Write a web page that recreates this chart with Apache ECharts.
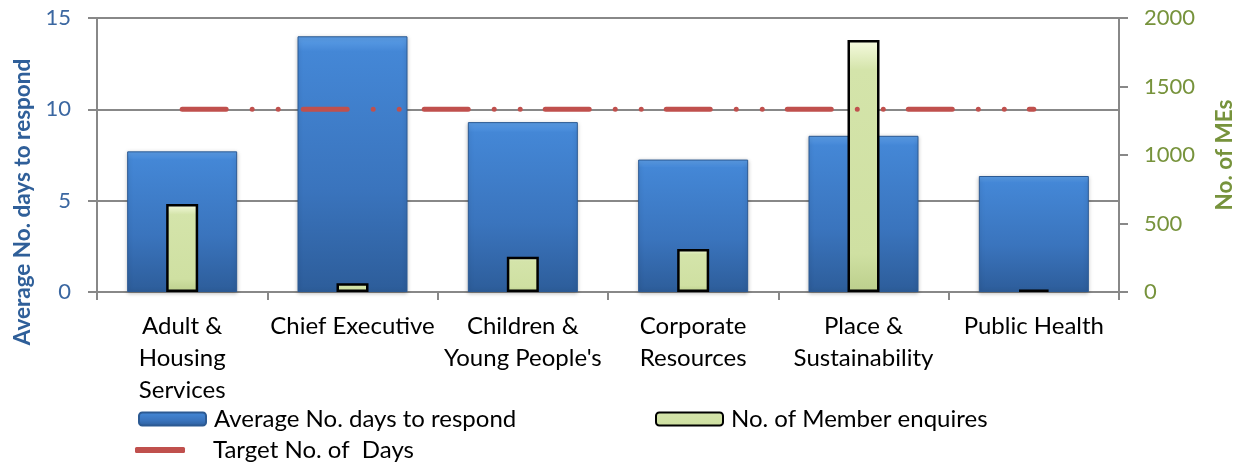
<!DOCTYPE html>
<html>
<head>
<meta charset="utf-8">
<script src="https://cdn.jsdelivr.net/npm/echarts@6/dist/echarts.min.js"></script>
<style>
  html, body { margin: 0; padding: 0; background: #fff; }
  #chart { width: 1242px; height: 466px; }
</style>
</head>
<body>
<div id="chart"></div>
<script>
const categories = ['Adult &\nHousing\nServices', 'Chief Executive', 'Children &\nYoung People\'s', 'Corporate\nResources', 'Place &\nSustainability', 'Public Health']
const avgDays = [7.7, 14, 9.3, 7.25, 8.55, 6.35]
const memberEnquiries = [642, 63, 258, 314, 1840, 18]
const targetDays = [10, 10, 10, 10, 10, 10]
const leftTicks = { min: 0, max: 15, interval: 5 }
const rightTicks = { min: 0, max: 2000, interval: 500 }

const FONT = 'Lato, "Noto Sans", sans-serif'
const GRID_GRAY = '#888888'

const chart = echarts.init(document.getElementById('chart'), null, { renderer: 'canvas' })

const blueFill = new echarts.graphic.LinearGradient(0, 0, 0, 1, [
  { offset: 0, color: '#5d9fe8' },
  { offset: 0.06, color: '#4487d6' },
  { offset: 0.6, color: '#3a74bd' },
  { offset: 1, color: '#2d5d9a' },
])
const greenFill = new echarts.graphic.LinearGradient(0, 0, 0, 1, [
  { offset: 0, color: '#f6fbe0' },
  { offset: 0.12, color: '#d4e4aa' },
  { offset: 0.85, color: '#cfe0a2' },
  { offset: 1, color: '#bccf8c' },
])

const legendText = { fontFamily: FONT, fontSize: 24, color: '#000' }

chart.setOption({
  animation: false,
  grid: { left: 97, right: 123, top: 18, bottom: 174, outerBoundsMode: 'none' },
  legend: [
    {
      data: ['Average No. days to respond'],
      left: 138, top: 407, padding: 0,
      itemWidth: 67, itemHeight: 13,
      textStyle: { ...legendText, padding: [0, 0, 0, 3] },
    },
    {
      data: ['No. of Member enquires'],
      left: 655, top: 407, padding: 0,
      itemWidth: 67, itemHeight: 13,
      textStyle: { ...legendText, padding: [0, 0, 0, 3] },
    },
    {
      data: [{ name: 'Target No. of  Days', icon: 'roundRect' }],
      left: 135, top: 438, padding: 0,
      itemWidth: 50, itemHeight: 6,
      itemStyle: { color: '#c0504d', borderWidth: 0 },
      lineStyle: { type: 'solid' },
      textStyle: { ...legendText, padding: [0, 0, 0, 23] },
    },
  ],
  xAxis: [
    {
      type: 'category',
      data: categories,
      axisLine: { lineStyle: { color: GRID_GRAY, width: 2 } },
      axisTick: { show: true, length: 8, lineStyle: { color: GRID_GRAY, width: 2 } },
      axisLabel: {
        interval: 0, margin: 18,
        fontFamily: FONT, fontSize: 24, lineHeight: 32, color: '#000',
      },
    },
    {
      type: 'category',
      data: categories,
      show: false,
    },
  ],
  yAxis: [
    {
      type: 'value',
      min: leftTicks.min, max: leftTicks.max, interval: leftTicks.interval,
      name: 'Average No. days to respond',
      nameLocation: 'middle',
      nameGap: 62,
      nameTextStyle: {
        fontFamily: FONT, fontSize: 22.5, fontWeight: 'bold', color: '#2f5f99',
        padding: [0, 94, 0, 0],
      },
      axisLine: { show: true, lineStyle: { color: GRID_GRAY, width: 2 } },
      axisTick: { show: true, length: 9, lineStyle: { color: GRID_GRAY, width: 2 } },
      axisLabel: { margin: 26, fontFamily: FONT, fontSize: 22, color: '#3b67a1' },
      splitLine: { show: true, lineStyle: { color: GRID_GRAY, width: 2 } },
    },
    {
      type: 'value',
      position: 'right',
      min: rightTicks.min, max: rightTicks.max, interval: rightTicks.interval,
      name: 'No. of MEs',
      nameLocation: 'middle',
      nameGap: 94,
      nameTextStyle: { fontFamily: FONT, fontSize: 22.5, fontWeight: 'bold', color: '#77933c' },
      axisLine: { show: true, lineStyle: { color: GRID_GRAY, width: 2 } },
      axisTick: { show: true, length: 9, lineStyle: { color: GRID_GRAY, width: 2 } },
      axisLabel: {
        margin: 25, fontFamily: FONT, fontSize: 22, color: '#77933c',
        formatter: (value) => String(value),
      },
      splitLine: { show: false },
    },
  ],
  series: [
    {
      name: 'Average No. days to respond',
      type: 'bar',
      xAxisIndex: 0, yAxisIndex: 0,
      barWidth: 110,
      itemStyle: {
        color: blueFill,
        borderColor: '#2c5a93', borderWidth: 1,
        shadowColor: 'rgba(0,0,0,0.25)', shadowBlur: 4, shadowOffsetY: 1,
      },
      data: avgDays,
      z: 2,
    },
    {
      name: 'No. of Member enquires',
      type: 'bar',
      xAxisIndex: 1, yAxisIndex: 1,
      barWidth: 32,
      itemStyle: { color: greenFill, borderColor: '#000', borderWidth: 2.5 },
      data: memberEnquiries,
      z: 3,
    },
    {
      name: 'Target No. of  Days',
      type: 'line',
      xAxisIndex: 0, yAxisIndex: 0,
      symbol: 'none',
      itemStyle: { color: '#c0504d' },
      lineStyle: { color: '#c0504d', width: 5, type: [44, 26, 0.01, 26, 0.01, 25], cap: 'round' },
      data: targetDays,
      z: 4,
    },
  ],
})
</script>
</body>
</html>
